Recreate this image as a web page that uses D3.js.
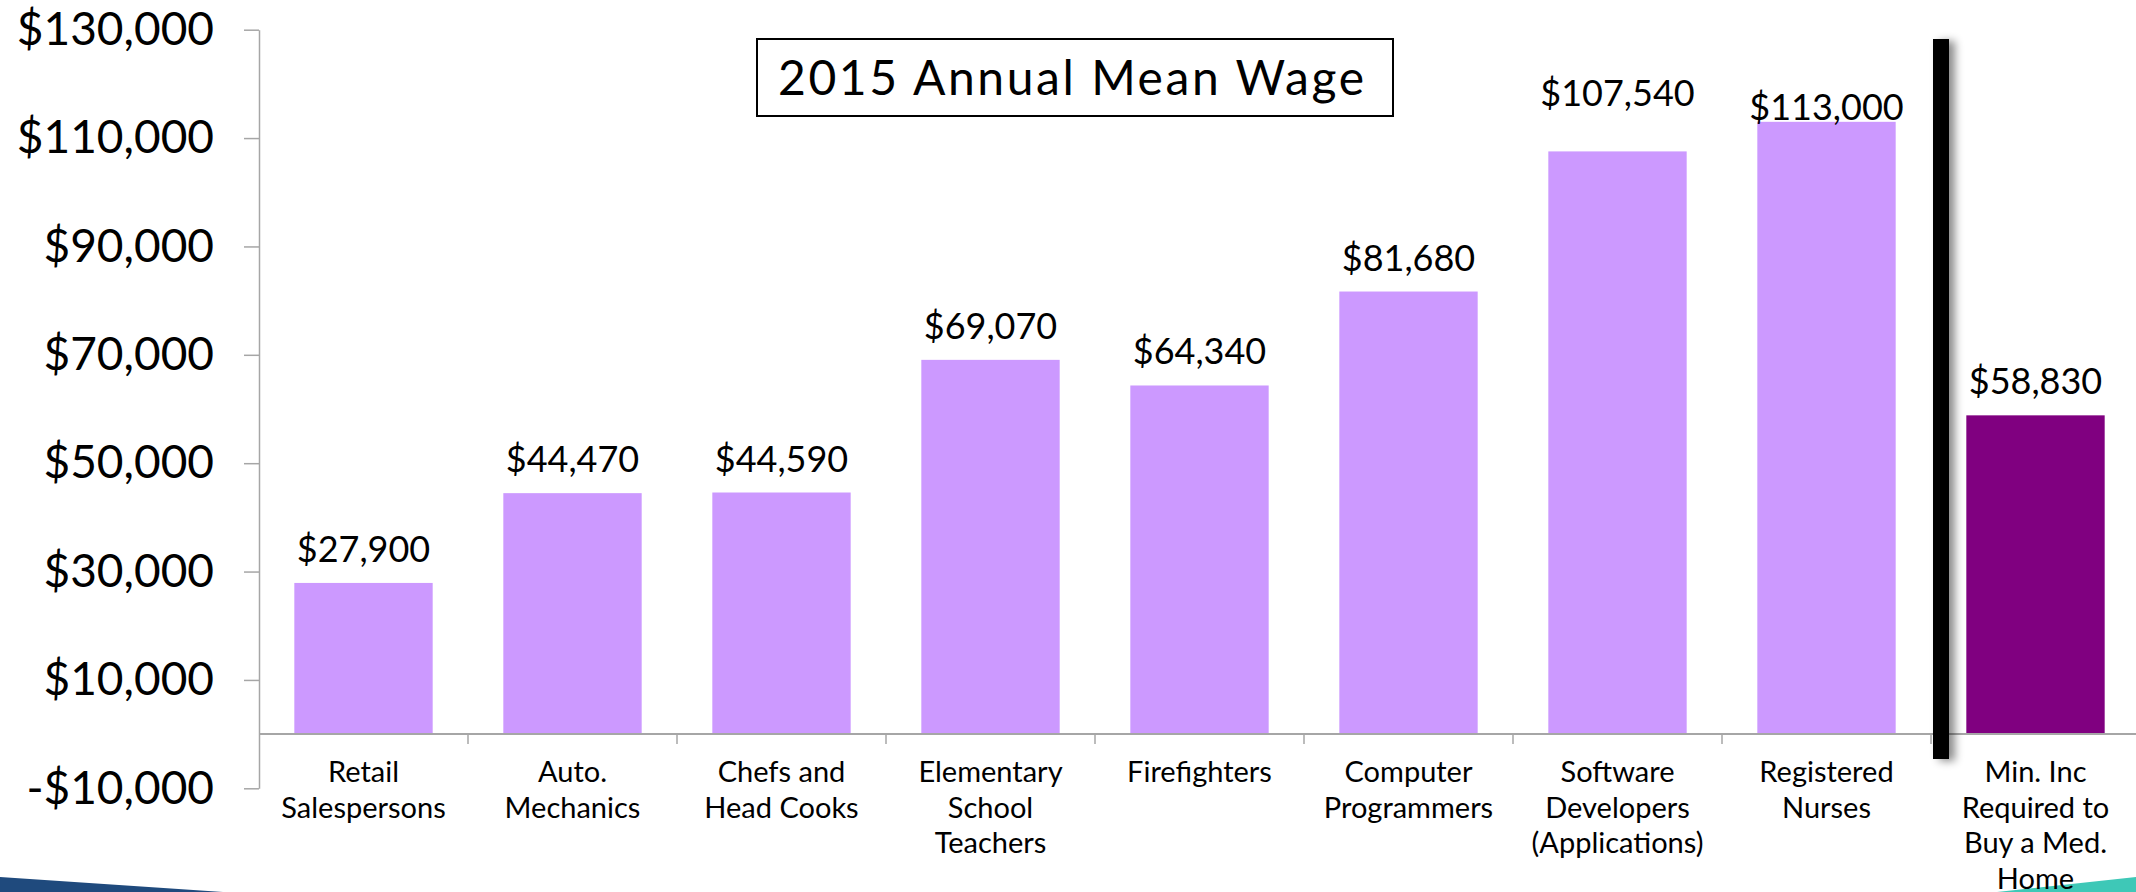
<!DOCTYPE html>
<html>
<head>
<meta charset="utf-8">
<script src="https://cdn.jsdelivr.net/npm/d3@7"></script>
<style>
body{margin:0;background:#fff}
svg text{font-family:Lato, "Open Sans", sans-serif}
</style>
</head>
<body>
<div id="chart"></div>
<script>
const width = 2136
const height = 892

// data
const categories = [
  "Retail\nSalespersons",
  "Auto.\nMechanics",
  "Chefs and\nHead Cooks",
  "Elementary\nSchool\nTeachers",
  "Firefighters",
  "Computer\nProgrammers",
  "Software\nDevelopers\n(Applications)",
  "Registered\nNurses",
  "Min. Inc\nRequired to\nBuy a Med.\nHome"
]
const wages = [27900, 44470, 44590, 69070, 64340, 81680, 107540, 113000, 58830]
const yTicks = [-10000, 10000, 30000, 50000, 70000, 90000, 110000, 130000]
const title = "2015 Annual Mean Wage"

const svg = d3.select("#chart")
  .append("svg")
  .attr("width", width)
  .attr("height", height)

const defs = svg.append("defs")
defs.append("filter")
  .attr("id","shadow")
  .attr("x","-50%").attr("y","-10%").attr("width","250%").attr("height","120%")
  .append("feDropShadow")
  .attr("dx",6).attr("dy",2)
  .attr("stdDeviation",4)
  .attr("flood-color","#000")
  .attr("flood-opacity",0.45)

const x = d3.scaleBand()
  .domain(categories)
  .range([259, 2140])
  .paddingInner(0.338)
  .paddingOuter(0.169)

const y = d3.scaleLinear()
  .domain([-10000, 130000])
  .range([788.3, 29.7])

const money = v => (v < 0 ? "-$" : "$") + d3.format(",")(Math.abs(v))

/* slide decoration */

svg.append("path")
  .attr("d","M0,877 L223,892 L0,892 Z")
  .attr("fill","#1f4a7d")

svg.append("path")
  .attr("d","M1997,892 L2136,877 L2136,892 Z")
  .attr("fill","#3ec8b7")

/* y axis */

const yAxis = svg.append("g")
  .attr("transform","translate(259,0)")
  .call(d3.axisLeft(y)
    .tickValues(yTicks)
    .tickSize(15)
    .tickSizeOuter(0)
    .tickPadding(30)
    .tickFormat(money))

yAxis.select(".domain").attr("stroke","#a6a6a6").attr("stroke-width",1.5)
yAxis.selectAll(".tick line").attr("stroke","#a6a6a6").attr("stroke-width",1.5)
yAxis.selectAll(".tick text")
  .attr("font-size",46)
  .attr("font-family","Lato")
  .attr("fill","#000")

/* bars */

const step = x.step()
const gap = step * x.paddingInner()

svg.selectAll(".bar")
  .data(wages)
  .join("rect")
  .attr("class","bar")
  .attr("x",(d,i) => x(categories[i]))
  .attr("width",x.bandwidth())
  .attr("y",d => y(d))
  .attr("height",d => y(0) - y(d))
  .attr("fill",(d,i) => i === categories.length - 1 ? "#800080" : "#cc99ff")

/* x axis line and boundary ticks */

const y0 = y(0)

svg.append("line")
  .attr("x1",259).attr("x2",2140)
  .attr("y1",y0).attr("y2",y0)
  .attr("stroke","#a6a6a6")
  .attr("stroke-width",2)

svg.selectAll(".xtick")
  .data(categories.slice(1))
  .join("line")
  .attr("class","xtick")
  .attr("x1",d => x(d) - gap/2)
  .attr("x2",d => x(d) - gap/2)
  .attr("y1",y0).attr("y2",y0 + 10)
  .attr("stroke","#a6a6a6")
  .attr("stroke-width",1.5)

/* category labels */

const catLabels = svg.selectAll(".cat")
  .data(categories)
  .join("text")
  .attr("class","cat")
  .attr("text-anchor","middle")
  .attr("font-size",29)
  .attr("fill","#000")

catLabels.each(function(d){
  const cx = x(d) + x.bandwidth()/2
  d3.select(this).selectAll("tspan")
    .data(d.split("\n"))
    .join("tspan")
    .attr("x",cx)
    .attr("y",(t,j) => 782 + j*35.5)
    .text(t => t)
})

/* value labels: two were nudged by hand on the slide */

const nudge = {6: -45, 7: -2}

svg.selectAll(".val")
  .data(wages)
  .join("text")
  .attr("class","val")
  .attr("text-anchor","middle")
  .attr("font-size",36)
  .attr("fill","#000")
  .attr("x",(d,i) => x(categories[i]) + x.bandwidth()/2)
  .attr("y",(d,i) => y(d) + (nudge[i] !== undefined ? nudge[i] : -21))
  .text(d => money(d))

/* black separator before the last bar */

const sepX = x(categories[8]) - gap/2 + 2

svg.append("rect")
  .attr("x",sepX)
  .attr("y",39)
  .attr("width",16)
  .attr("height",720)
  .attr("fill","#000")
  .attr("filter","url(#shadow)")

/* title box */

svg.append("rect")
  .attr("x",757).attr("y",39)
  .attr("width",636).attr("height",77)
  .attr("fill","#fff")
  .attr("stroke","#000")
  .attr("stroke-width",2)

svg.append("text")
  .attr("x",1071)
  .attr("y",95)
  .attr("text-anchor","middle")
  .attr("font-size",48)
  .attr("textLength",586)
  .attr("lengthAdjust","spacing")
  .attr("fill","#000")
  .text(title)
</script>
</body>
</html>
